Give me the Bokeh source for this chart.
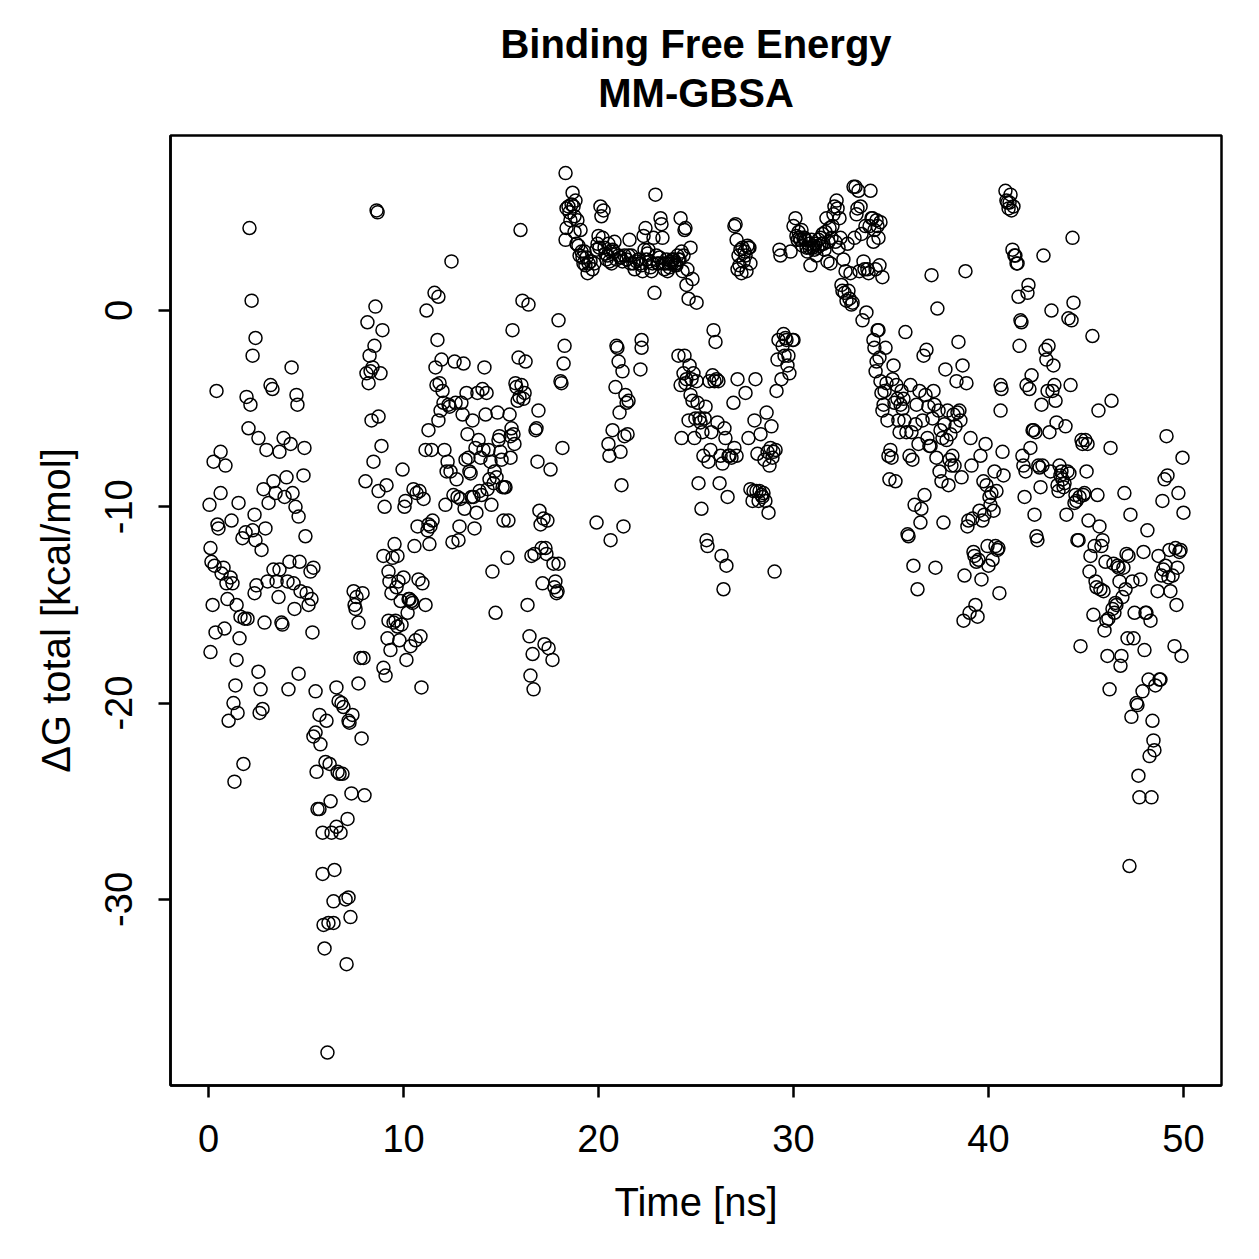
from bokeh.plotting import figure
from bokeh.models import FixedTicker, ColumnDataSource, Title
from bokeh.embed import file_html
from bokeh.resources import INLINE

# (time [ns], dG total [kcal/mol]), grouped by time window
seg_a = [(0.05,-9.9),(0.10,-12.1),(0.15,-12.8),(0.10,-17.4),(0.21,-15.0),(0.26,-7.7),(0.41,-4.1),(0.31,-13.0),
(0.46,-10.9),(0.51,-11.1),(0.36,-16.4),(0.62,-9.3),(0.62,-7.2),(0.67,-13.4),(0.77,-13.1),(0.82,-16.2),(0.87,-7.9),
(0.92,-13.9),(0.97,-14.7),(1.03,-20.9),(1.13,-13.6),(1.18,-10.7),(1.23,-13.9),(1.28,-20.0),(1.33,-24.0),(1.38,-19.1),
(1.44,-15.0),(1.44,-17.8),(1.54,-9.8),(1.49,-20.5),(1.59,-16.7),(1.64,-15.6),(1.74,-11.6),(1.79,-23.1),(1.85,-15.7),
(1.90,-11.3),(1.95,-4.4),(2.00,-15.7),(2.05,-6.0),(2.10,4.2),(2.15,-4.8),(2.21,0.5),(2.26,-2.3),(2.26,-11.2),
(2.36,-10.4),(2.36,-14.4),(2.41,-11.7),(2.41,-1.4),(2.46,-14.0),(2.56,-18.4),(2.56,-6.5),(2.62,-20.5),(2.67,-19.3),
(2.72,-12.2),(2.77,-20.3),(2.82,-9.1),(2.87,-15.9),(2.92,-11.1),(2.97,-7.1),(3.03,-13.8),(3.08,-9.8),(3.18,-3.8),
(3.28,-4.0),(3.33,-8.7),(3.33,-13.2),(3.44,-9.3),(3.49,-13.8),(3.59,-14.6),(3.64,-7.2),(3.64,-13.2),(3.74,-15.9),
(3.79,-16.0),(3.85,-6.5),(3.90,-9.5),(4.00,-8.5),(4.05,-13.8),(4.10,-19.3),(4.15,-12.8),(4.21,-6.8),(4.26,-2.9),
(4.31,-9.3),(4.36,-13.9),(4.41,-15.2),(4.46,-10.0),(4.51,-4.3),(4.56,-4.8),(4.62,-10.5),(4.62,-18.5),(4.67,-12.8),
(4.72,-14.3),(4.87,-8.4),(4.92,-7.0),(4.97,-11.5),(5.03,-14.4),(5.13,-15.0),(5.23,-13.3),(5.28,-14.7),(5.33,-16.4),
(5.38,-13.1)]

seg_b = [(5.49,-19.4),(5.38,-21.7),(5.49,-21.5),(5.54,-23.5),(5.59,-25.4),(5.69,-20.6),(5.69,-25.4),(5.74,-22.1),
(5.85,-26.6),(5.85,-28.7),(5.90,-31.3),(5.95,-32.5),(6.00,-23.0),(6.05,-20.9),(6.10,-37.8),(6.15,-31.2),(6.21,-23.1),
(6.26,-25.0),(6.31,-26.6),(6.41,-31.2),(6.41,-30.1),(6.46,-28.5),(6.56,-19.2),(6.56,-26.3),(6.62,-23.5),(6.67,-19.9),
(6.72,-23.6),(6.77,-26.6),(6.82,-20.0),(6.87,-23.6),(6.92,-20.2),(7.03,-30.0),(7.08,-33.3),(7.13,-25.9),(7.18,-29.9),
(7.18,-20.9),(7.23,-21.0),(7.28,-30.9),(7.33,-24.6),(7.38,-20.6),(7.44,-14.3),(7.49,-15.0),(7.54,-15.2),(7.59,-14.6),
(7.69,-15.9),(7.69,-19.0),(7.79,-17.7),(7.85,-21.8),(7.90,-14.4),(7.95,-17.7),(8.00,-24.7),(8.05,-8.7)]

seg_c = [(8.10,-3.2),(8.15,-0.6),(8.21,-3.7),(8.26,-2.3),(8.31,-3.1),(8.36,-5.6),(8.41,-2.9),(8.46,-7.7),(8.51,-1.8),
(8.56,0.2),(8.62,5.1),(8.67,5.0),(8.72,-5.4),(8.72,-9.2),(8.82,-3.2),(8.87,-6.9),(8.92,-1.0),(8.97,-12.5),(8.97,-18.2),
(9.03,-10.0),(9.08,-18.6),(9.13,-8.9),(9.18,-16.7),(9.23,-15.8),(9.23,-13.3),(9.28,-13.8),(9.33,-17.3),(9.38,-14.4),
(9.44,-12.6),(9.49,-15.9),(9.54,-11.9),(9.59,-15.8),(9.64,-14.1),(9.69,-12.5),(9.69,-16.1),(9.74,-13.8),(9.79,-16.8),
(9.85,-14.8),(9.90,-16.0),(9.95,-8.1),(10.00,-13.6),(10.05,-10.0),(10.10,-9.7),(10.15,-17.8),(10.21,-15.4),
(10.26,-14.7),(10.31,-14.7),(10.36,-17.1),(10.41,-14.8),(10.46,-14.9),(10.51,-9.1),(10.56,-12.0),(10.62,-16.8),
(10.67,-9.3),(10.72,-11.0),(10.77,-13.7),(10.82,-9.2),(10.87,-16.6),(10.92,-19.2),(10.97,-13.9),(11.03,-9.6),
(11.13,-15.0),(11.13,-7.1),(11.18,0.0),(11.23,-11.2),(11.28,-6.1),(11.28,-10.9),(11.33,-11.9),(11.38,-11.0),
(11.44,-7.1),(11.49,-10.7),(11.59,0.9),(11.64,-2.9),(11.69,-3.8),(11.74,-1.5),(11.79,0.7),(11.79,-5.6),(11.85,-3.7),
(11.90,-5.1),(11.95,-2.5),(12.00,-4.1),(12.05,-4.7),(12.10,-7.1),(12.15,-9.9),(12.21,-8.2),(12.26,-7.7),(12.31,-4.8),
(12.36,-4.9),(12.41,-8.2),(12.46,2.5),(12.51,-11.8),(12.56,-9.4),(12.62,-2.6),(12.67,-4.7),(12.72,-8.6),(12.77,-9.5),
(12.82,-11.7),(12.87,-11.0),(12.92,-9.6),(12.97,-4.7),(13.03,-5.3),(13.08,-2.7),(13.13,-10.1),(13.18,-7.6),
(13.23,-4.2),(13.28,-6.3),(13.33,-7.5),(13.38,-8.2),(13.44,-8.3),(13.49,-9.5),(13.54,-5.6),(13.59,-9.5),(13.64,-11.1),
(13.69,-7.0),(13.74,-10.3),(13.79,-4.2),(13.85,-6.6),(13.90,-9.2),(13.95,-7.5),(14.00,-9.4),(14.05,-4.0),(14.10,-7.1),
(14.15,-2.9),(14.21,-5.3),(14.26,-4.2),(14.31,-9.1),(14.36,-7.1),(14.41,-8.6),(14.46,-7.7),(14.51,-9.9),(14.56,-13.3),
(14.62,-8.8),(14.67,-8.2),(14.72,-15.4),(14.77,-8.5),(14.82,-5.2),(14.87,-6.6),(14.92,-6.4),(14.97,-7.2),(15.03,-7.6),
(15.08,-9.0),(15.13,-10.7),(15.18,-9.0),(15.23,-9.0),(15.33,-12.6),(15.38,-10.7),(15.44,-5.3),(15.49,-6.4),
(15.49,-7.5),(15.54,-6.0),(15.59,-1.0),(15.64,-6.3),(15.69,-6.8),(15.74,-3.7),(15.79,-3.9),(15.85,-4.6),(15.90,-2.4),
(15.95,-4.4),(16.00,4.1),(16.05,-3.8),(16.10,0.5),(16.15,-4.5),(16.21,-4.2),(16.26,-2.6),(16.36,-15.0),(16.41,0.3),
(16.46,-16.6),(16.51,-18.6),(16.56,-12.5),(16.62,-17.5),(16.67,-19.3),(16.72,-12.4),(16.77,-6.1),(16.82,-6.0),
(16.87,-7.7),(16.92,-5.1),(16.97,-10.2),(17.03,-10.9),(17.08,-12.1),(17.13,-13.9),(17.18,-10.6),(17.23,-17.0),
(17.28,-12.1),(17.33,-12.4),(17.38,-10.7),(17.44,-17.2),(17.54,-8.1),(17.64,-17.8),(17.69,-12.9),(17.74,-14.1),
(17.79,-13.8),(17.85,-14.4),(17.90,-14.3),(17.95,-12.9),(17.95,-0.5),(18.05,-3.6),(18.10,-3.7),(18.15,-7.0),
(18.21,-2.7),(18.26,-1.8),(18.31,7.0),(18.36,4.2)]

seg_d = [(18.31,3.6),(18.36,5.2),(18.46,5.3),(18.51,5.0),(18.56,4.6),(18.62,5.4),(18.67,6.0),(18.72,5.3),(18.77,4.8),
(18.77,4.0),(18.82,5.6),(18.87,3.4),(18.92,4.6),(18.97,3.3),(19.03,2.8),(19.08,4.1),(19.13,3.0),(19.18,2.7),
(19.23,2.4),(19.28,3.0),(19.33,2.3),(19.38,2.7),(19.44,1.9),(19.49,2.4),(19.59,2.5),(19.69,2.1),(19.79,2.4),
(19.90,3.1),(19.95,3.4),(20.00,3.8),(20.05,3.2),(20.10,5.3),(20.15,4.8),(20.21,3.7),(20.26,5.1),(20.31,3.2),
(20.36,2.9),(20.41,2.6),(20.46,2.8),(20.51,3.4),(20.56,2.5),(20.62,3.0),(20.67,2.4),(20.72,3.1),(20.77,3.0),
(20.82,3.5),(20.92,2.6),(21.03,2.8),(21.13,2.7),(21.23,2.5),(21.33,2.8),(21.44,2.6),(21.54,2.8),(21.59,3.6),
(21.64,2.4),(21.69,2.8),(21.79,2.4),(21.85,2.1),(21.95,2.5),(22.05,2.6),(22.15,2.4),(22.21,2.3),(22.26,2.0),
(22.31,3.8),(22.36,3.1),(22.41,4.2),(22.46,2.6),(22.51,2.9),(22.56,3.1),(22.62,2.5),(22.67,2.2),(22.72,2.0),
(22.77,2.4),(22.82,3.7),(22.87,0.9),(22.92,5.9),(22.97,2.8),(23.03,2.4),(23.08,2.4),(23.13,2.7),(23.18,4.7),
(23.23,4.4),(23.28,3.7),(23.33,2.4),(23.38,2.1),(23.44,2.4),(23.49,2.6),(23.54,2.0),(23.59,2.4),(23.64,2.2),
(23.69,2.4),(23.74,2.5),(23.79,2.6),(23.85,2.6),(23.90,2.3),(23.95,2.4),(24.00,2.3),(24.05,2.8),(24.10,2.6),
(24.15,2.6),(24.21,4.7),(24.26,3.0),(24.31,2.0),(24.36,2.8),(24.41,4.1),(24.46,4.2),(24.51,1.3),(24.56,2.1),
(24.62,0.6),(24.72,3.2),(24.82,1.6),(25.03,0.4),
(19.90,-10.8),(20.51,-6.8),(20.56,-7.4),(20.62,-11.7),(20.72,-6.1),(20.87,-3.9),(20.92,-1.8),(20.97,-1.9),
(21.03,-2.6),(21.08,-5.2),(21.13,-7.2),(21.18,-8.9),(21.23,-3.1),(21.28,-11.0),(21.33,-6.4),(21.38,-4.3),
(21.44,-4.7),(21.49,-6.3),(21.54,-4.6),(22.15,-3.0),(22.21,-1.5),(22.21,-1.9)]

seg_e = [(24.10,-2.3),(24.21,-3.8),(24.26,-6.5),(24.36,-3.2),(24.41,-2.3),(24.46,-3.7),(24.51,-3.5),(24.62,-5.6),
(24.67,-2.8),(24.72,-4.3),(24.77,-3.5),(24.82,-4.6),(24.87,-3.2),(24.92,-6.5),(24.97,-5.5),(25.03,-3.6),(25.08,-4.7),
(25.13,-8.8),(25.18,-5.5),(25.23,-5.7),(25.28,-10.1),(25.33,-6.2),(25.38,-7.4),(25.44,-5.5),(25.49,-4.9),
(25.54,-11.7),(25.59,-12.0),(25.64,-7.7),(25.69,-3.6),(25.74,-7.1),(25.79,-6.2),(25.85,-3.3),(25.90,-1.0),
(25.95,-3.6),(26.00,-1.6),(26.05,-3.5),(26.10,-5.7),(26.15,-3.6),(26.21,-8.8),(26.26,-7.4),(26.31,-12.5),
(26.36,-7.8),(26.41,-14.2),(26.46,-6.0),(26.51,-6.5),(26.56,-13.0),(26.62,-9.5),(26.67,-7.4),(26.72,-7.4),
(26.82,-7.5),(26.92,-4.7),(26.97,-7.0),(27.08,-7.4),(27.13,-3.5),
(26.97,4.3),(27.03,4.4),(27.08,3.6),(27.13,2.1),(27.18,2.8),(27.23,2.3),(27.28,3.1),(27.33,1.9),(27.38,3.2),
(27.44,2.5),(27.49,3.0),(27.54,2.8),(27.59,2.0),(27.64,3.3),(27.69,3.2),(27.74,3.2),(27.79,2.4)]

seg_f = [(27.54,-4.2),(27.69,-6.5),(27.79,-9.1),(27.90,-9.7),(27.95,-9.2),(28.00,-5.6),(28.05,-3.5),(28.10,-9.2),
(28.15,-7.3),(28.21,-9.7),(28.26,-9.2),(28.31,-6.3),(28.36,-9.4),(28.41,-9.5),(28.46,-9.3),(28.51,-7.6),(28.56,-9.7),
(28.62,-5.2),(28.67,-7.2),(28.72,-10.3),(28.77,-7.9),(28.82,-7.0),(28.87,-5.9),(28.92,-7.5),(28.97,-7.2),
(29.03,-13.3),(29.08,-7.1),(29.13,-4.1),(29.18,-2.5),(29.23,-1.5),(29.28,3.1),(29.33,2.8),(29.38,-3.5),(29.44,-1.8),
(29.49,-1.2),(29.54,-2.3),(29.59,-1.4),(29.64,-1.5),(29.69,-2.8),(29.74,-2.3),(29.79,-3.2),(29.85,3.0),(29.95,-1.5),
(30.00,-1.5)]

seg_g = [(30.00,4.3),(30.10,4.7),(30.15,3.8),(30.21,3.6),(30.26,4.0),(30.31,3.7),(30.36,3.6),(30.41,4.1),(30.46,3.3),
(30.51,3.7),(30.56,3.7),(30.62,3.6),(30.67,3.2),(30.72,3.0),(30.77,3.4),(30.82,3.2),(30.87,2.3),(30.92,3.6),
(30.97,3.2),(31.03,3.3),(31.08,3.1),(31.13,3.4),(31.18,2.8),(31.23,3.2),(31.28,3.6),(31.33,3.3),(31.38,3.7),
(31.44,3.4),(31.49,3.9),(31.54,3.4),(31.59,3.1),(31.64,4.0),(31.69,4.7),(31.74,2.5),(31.79,3.5),(31.85,4.2),
(31.90,2.4),(31.95,3.7),(32.00,4.3),(32.05,4.9),(32.10,5.3),(32.15,3.5),(32.21,5.6),(32.26,5.2),(32.31,3.2),
(32.36,4.7),(32.41,3.7),(32.46,1.3),(32.51,1.0),(32.56,2.6),(32.62,0.9),(32.67,2.0),(32.72,0.5),(32.77,3.4),
(32.82,1.0),(32.87,0.6),(32.92,1.9),(32.97,0.3),(33.03,0.4),(33.08,6.3),(33.13,3.7),(33.18,6.3),(33.23,4.9),
(33.28,5.2),(33.33,6.1),(33.38,2.0),(33.44,5.3),(33.49,3.9),(33.54,-0.5),(33.59,2.5),(33.64,2.1),(33.69,4.3),
(33.74,-0.1),(33.79,2.1),(33.85,1.9),(33.90,4.3),(33.95,6.1),(34.00,4.7),(34.05,4.7),(34.10,3.5),(34.15,4.1),
(34.21,2.1),(34.26,4.6),(34.31,4.3),(34.36,3.7),(34.41,2.3),(34.46,4.5),(34.56,1.7)]

seg_h = [(34.10,-1.5),(34.15,-1.9),(34.21,-3.1),(34.26,-2.6),(34.31,-1.0),(34.36,-1.0),(34.41,-2.4),(34.46,-3.6),
(34.51,-4.2),(34.56,-5.1),(34.62,-4.8),(34.67,-4.1),(34.72,-1.9),(34.77,-3.7),(34.82,-5.6),(34.87,-7.4),(34.92,-8.6),
(34.97,-7.1),(35.03,-7.5),(35.08,-3.5),(35.13,-2.8),(35.18,-4.7),(35.23,-8.7),(35.28,-3.8),(35.33,-4.5),(35.38,-5.6),
(35.44,-6.2),(35.49,-4.8),(35.54,-4.1),(35.59,-5.0),(35.64,-4.5),(35.69,-5.6),(35.74,-1.1),(35.79,-6.2),(35.85,-11.4),
(35.90,-11.5),(35.95,-7.4),(36.00,-3.8),(36.05,-6.2),(36.10,-7.6),(36.15,-13.0),(36.21,-9.9),(36.26,-5.8),
(36.31,-4.8),(36.36,-14.2),(36.41,-6.8),(36.46,-4.1),(36.51,-10.8),(36.56,-10.1),(36.62,-5.6),(36.67,-2.3),
(36.72,-9.4),(36.77,-4.3),(36.82,-2.0),(36.87,-6.5),(36.92,-4.9),(36.97,-6.9),(37.03,-6.9),(37.08,1.8),(37.13,-5.5),
(37.18,-4.1),(37.23,-4.8),(37.28,-13.1),(37.33,-7.5),(37.38,0.1),(37.44,-5.1),(37.49,-8.2),(37.54,-6.1),(37.59,-8.7),
(37.64,-6.5),(37.69,-10.8),(37.74,-5.8),(37.79,-3.0),(37.85,-6.6),(37.90,-5.1),(37.95,-8.9),(38.00,-7.6),(38.05,-6.3),
(38.10,-7.9),(38.15,-7.4),(38.21,-5.3),(38.26,-7.9),(38.31,-5.9),(38.36,-3.6),(38.41,-5.2),(38.46,-1.6),(38.51,-5.1),
(38.56,-5.6),(38.62,-8.5),(38.67,-2.8),(38.72,-15.8),(38.77,-13.5),(38.82,2.0),(38.87,-3.7),(38.92,-11.0),
(38.97,-10.7),(39.03,-15.4),(39.08,-6.5),(39.13,-7.9),(39.18,-10.6),(39.23,-12.3),(39.28,-12.5),(39.33,-15.0),
(39.38,-12.8),(39.44,-15.6),(39.49,-12.7),(39.54,-10.2),(39.59,-7.4),(39.64,-13.7),(39.69,-10.7),(39.74,-8.7),
(39.79,-10.4),(39.85,-6.8),(39.90,-8.9),(39.95,-12.0),(40.00,-13.0),(40.05,-9.5),(40.10,-9.9),(40.15,-9.3),
(40.21,-12.7),(40.26,-10.2),(40.31,-8.2),(40.36,-12.0),(40.41,-9.2),(40.46,-12.2),(40.51,-12.1),(40.56,-14.4),
(40.62,-5.1),(40.62,-3.8),(40.67,-4.0),(40.72,-7.2),(40.77,-8.4)]

seg_i = [(40.87,6.1),(40.92,5.6),(40.97,5.5),(41.03,5.2),(41.08,5.5),(41.13,5.9),(41.18,5.1),(41.23,3.1),(41.28,5.3),
(41.33,2.8),(41.38,2.8),(41.44,2.4),(41.49,2.4),(41.54,0.7),(41.59,-1.8),(41.64,-0.5),(41.69,-0.6),(41.74,-7.4),
(41.79,-7.9),(41.85,-9.5),(41.90,-8.2),(41.95,-3.8),(42.00,0.9),(42.05,1.3),(42.10,-4.0),(42.15,-7.0),(42.21,-3.3),
(42.26,-6.1),(42.31,-6.1),(42.36,-10.4),(42.41,-6.2),(42.46,-11.5),(42.51,-11.7),(42.56,-7.9),(42.62,-8.0),
(42.67,-9.0),(42.72,-4.8),(42.77,-7.9),(42.82,2.8),(42.92,-2.0),(42.97,-2.5),(43.03,-4.1),(43.08,-1.8),(43.13,-6.2),
(43.18,-8.2),(43.23,0.0),(43.28,-4.1),(43.33,-2.8),(43.38,-3.8),(43.44,-4.6),(43.49,-5.7),(43.54,-8.9),(43.59,-9.2),
(43.64,-7.9),(43.69,-8.4),(43.74,-8.2),(43.79,-8.6),(43.85,-9.0),(43.90,-8.8),(43.95,-5.9),(44.00,-10.4),(44.05,-8.2),
(44.10,-0.4),(44.15,-8.3),(44.21,-3.8),(44.26,-0.5),(44.31,3.7),(44.36,0.4),(44.41,-9.8),(44.46,-9.4),(44.51,-9.7),
(44.56,-11.7),(44.62,-11.7),(44.67,-9.5),(44.72,-17.1),(44.77,-6.6),(44.82,-6.8),(44.87,-9.4),(44.92,-9.3),
(44.97,-6.6),(45.03,-8.2),(45.08,-6.8),(45.13,-10.7),(45.18,-13.3),(45.23,-12.5),(45.33,-1.3),(45.38,-15.5),
(45.44,-12.0),(45.49,-13.8),(45.54,-14.1),(45.59,-9.4),(45.64,-5.1),(45.69,-11.0),(45.74,-14.2),(45.79,-12.0),
(45.85,-11.7),(45.90,-14.3),(45.95,-16.3),(46.00,-12.8),(46.05,-15.8),(46.10,-17.6),(46.15,-15.7),(46.21,-19.3),
(46.26,-7.0),(46.31,-4.6),(46.36,-15.2),(46.41,-12.9),(46.46,-15.4),(46.51,-14.9),(46.56,-15.0),(46.62,-13.0),
(46.67,-13.1),(46.72,-13.8),(46.77,-18.1),(46.82,-17.6),(46.87,-14.6),(46.92,-13.1),(46.97,-9.3),(47.03,-14.2),
(47.08,-12.4),(47.13,-16.7),(47.18,-12.5),(47.23,-28.3),(47.28,-10.4),(47.33,-20.7),(47.38,-13.8),(47.44,-16.7),
(47.49,-15.4),(47.59,-20.0),(47.64,-20.1),(47.69,-23.7),(47.74,-24.8),(47.79,-13.7),(47.90,-19.4),(47.95,-12.3),
(48.00,-17.3),(48.05,-15.4),(48.10,-15.4),(48.15,-11.2),(48.21,-18.8),(48.26,-22.7),(48.31,-15.8),(48.36,-24.8),
(48.41,-20.9),(48.46,-21.9),(48.51,-22.4),(48.56,-19.1),(48.67,-14.3),(48.72,-12.5),(48.77,-18.8),(48.82,-18.8),
(48.87,-13.5),(48.92,-9.7),(48.97,-13.2),(49.03,-8.6),(49.08,-13.0),(49.13,-6.4),(49.18,-8.4),(49.23,-13.6),
(49.28,-12.2),(49.33,-14.3),(49.44,-13.5),(49.54,-17.1),(49.59,-12.1),(49.64,-15.0),(49.69,-13.1),(49.74,-9.3),
(49.79,-12.3),(49.85,-12.2),(49.90,-17.6),(49.95,-7.5),(50.00,-10.3)]

x_ticks = [0, 10, 20, 30, 40, 50]
y_ticks = [0, -10, -20, -30]
title_line1 = "Binding Free Energy"
title_line2 = "MM-GBSA"
x_label = "Time [ns]"
y_label = "\u0394G total [kcal/mol]"

points = seg_a + seg_b + seg_c + seg_d + seg_e + seg_f + seg_g + seg_h + seg_i
time_ns = [p_[0] for p_ in points]
dg_total = [p_[1] for p_ in points]

FONT = "Liberation Sans"

p = figure(width=1259, height=1259, x_range=(-1.95, 51.95), y_range=(-39.48, 8.915),
           output_backend="svg", toolbar_location=None, title=None,
           min_border_left=170, min_border_right=38, min_border_top=135, min_border_bottom=174,
           background_fill_color="white", border_fill_color="white")

# thin spacer panel between frame and the title lines
p.add_layout(Title(text=" ", align="center", text_font=FONT, text_font_size="1px", standoff=18), "above")
# second line sits closest to the frame, first line above it
p.add_layout(Title(text=title_line2, align="center", text_font=FONT, text_font_style="bold",
                   text_font_size="40px", text_color="black", standoff=0), "above")
p.add_layout(Title(text=title_line1, align="center", text_font=FONT, text_font_style="bold",
                   text_font_size="40px", text_color="black", standoff=6), "above")

p.outline_line_color = "black"
p.outline_line_width = 2.5
p.outline_line_alpha = 1.0
p.xgrid.visible = False
p.ygrid.visible = False

src = ColumnDataSource(data=dict(t=time_ns, g=dg_total))
p.scatter("t", "g", source=src, marker="circle", size=13, fill_color=None,
          line_color="black", line_width=1.5)

for ax in (p.xaxis[0], p.yaxis[0]):
    ax.axis_line_color = "black"
    ax.axis_line_width = 2.5
    ax.major_tick_in = 0
    ax.major_tick_out = 12
    ax.major_tick_line_width = 2.5
    ax.major_tick_line_color = "black"
    ax.minor_tick_line_color = None
    ax.major_label_text_font = FONT
    ax.major_label_text_font_size = "38px"
    ax.major_label_text_color = "black"
    ax.axis_label_text_font = FONT
    ax.axis_label_text_font_size = "40px"
    ax.axis_label_text_font_style = "normal"
    ax.axis_label_text_color = "black"

p.xaxis.ticker = FixedTicker(ticks=x_ticks)
p.yaxis.ticker = FixedTicker(ticks=y_ticks)
p.xaxis.major_label_overrides = {v: str(v) for v in x_ticks}
p.yaxis.major_label_overrides = {v: str(v) for v in y_ticks}
p.yaxis.major_label_orientation = "vertical"
p.xaxis.axis_label = x_label
p.yaxis.axis_label = y_label
p.xaxis.major_label_standoff = 27
p.yaxis.major_label_standoff = 26
p.xaxis.axis_label_standoff = 25
p.yaxis.axis_label_standoff = 25

open("out.html", "w").write(file_html(p, INLINE))
